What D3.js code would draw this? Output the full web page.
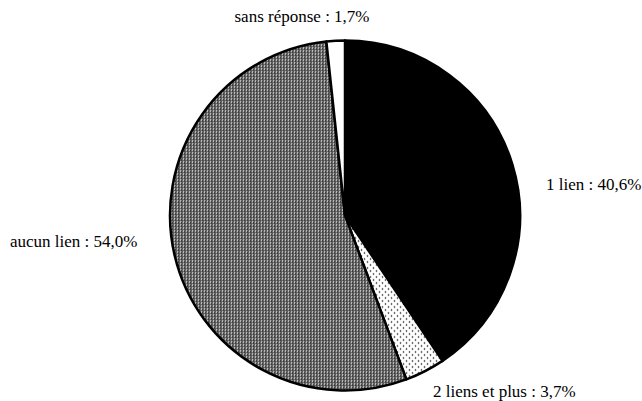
<!DOCTYPE html>
<html>
<head>
<meta charset="utf-8">
<script src="https://cdn.jsdelivr.net/npm/d3@7"></script>
</head>
<body style="margin:0">
<script>
var categories = ["1 lien", "2 liens et plus", "aucun lien", "sans réponse"];
var values = [40.6, 3.7, 54.0, 1.7];
var valueLabels = ["40,6%", "3,7%", "54,0%", "1,7%"];

var svgWidth = 642;
var svgHeight = 401;
var cx = 345, cy = 215.5, radius = 175;

// label placement relative to the pie centre (x, baseline y, anchor)
var labelLayout = [
  { dx: 201, dy: -26, anchor: "start" },
  { dx: 88, dy: 181, anchor: "start" },
  { dx: -335, dy: 31, anchor: "start" },
  { dx: -43, dy: -194, anchor: "middle" }
];

var svg = d3.select("body")
  .append("svg")
  .attr("width", svgWidth)
  .attr("height", svgHeight)
  .attr("font-family", "Liberation Serif");

var defs = svg.append("defs");

// fine grey stipple
var grey = defs.append("pattern")
  .attr("id", "grey")
  .attr("patternUnits", "userSpaceOnUse")
  .attr("width", 3)
  .attr("height", 3);
grey.append("rect").attr("width", 3).attr("height", 3).attr("fill", "#6e6e6e");
grey.append("rect").attr("x", 0).attr("y", 0).attr("width", 1).attr("height", 1).attr("fill", "#fff");
grey.append("rect").attr("x", 1).attr("y", 1).attr("width", 1).attr("height", 1).attr("fill", "#111");
grey.append("rect").attr("x", 2).attr("y", 2).attr("width", 1).attr("height", 1).attr("fill", "#444");

// sparse dots
var dots = defs.append("pattern")
  .attr("id", "dots")
  .attr("patternUnits", "userSpaceOnUse")
  .attr("width", 6)
  .attr("height", 6);
dots.append("rect").attr("width", 6).attr("height", 6).attr("fill", "#fff");
dots.append("circle").attr("cx", 1.5).attr("cy", 1.5).attr("r", 0.8).attr("fill", "#000");
dots.append("circle").attr("cx", 4.5).attr("cy", 4.5).attr("r", 0.8).attr("fill", "#000");

var fills = ["#000", "url(#dots)", "url(#grey)", "#fff"];

var data = categories.map(function(c, i) {
  return { name: c, value: values[i], label: valueLabels[i], fill: fills[i], pos: labelLayout[i] };
});

var pie = d3.pie()
  .sort(null)
  .value(d => d.value);

var arc = d3.arc()
  .innerRadius(0)
  .outerRadius(radius);

var g = svg.append("g")
  .attr("transform", `translate(${cx}, ${cy})`);

g.selectAll("path")
  .data(pie(data))
  .enter()
  .append("path")
  .attr("d", arc)
  .attr("fill", d => d.data.fill)
  .attr("stroke", "#000")
  .attr("stroke-width", 2.5)
  .attr("stroke-linejoin", "round");

g.selectAll("text")
  .data(data)
  .enter()
  .append("text")
  .attr("x", d => d.pos.dx)
  .attr("y", d => d.pos.dy)
  .attr("text-anchor", d => d.pos.anchor)
  .attr("font-family", "Liberation Serif")
  .attr("font-size", 17)
  .text(d => d.name + " : " + d.label);
</script>
</body>
</html>
